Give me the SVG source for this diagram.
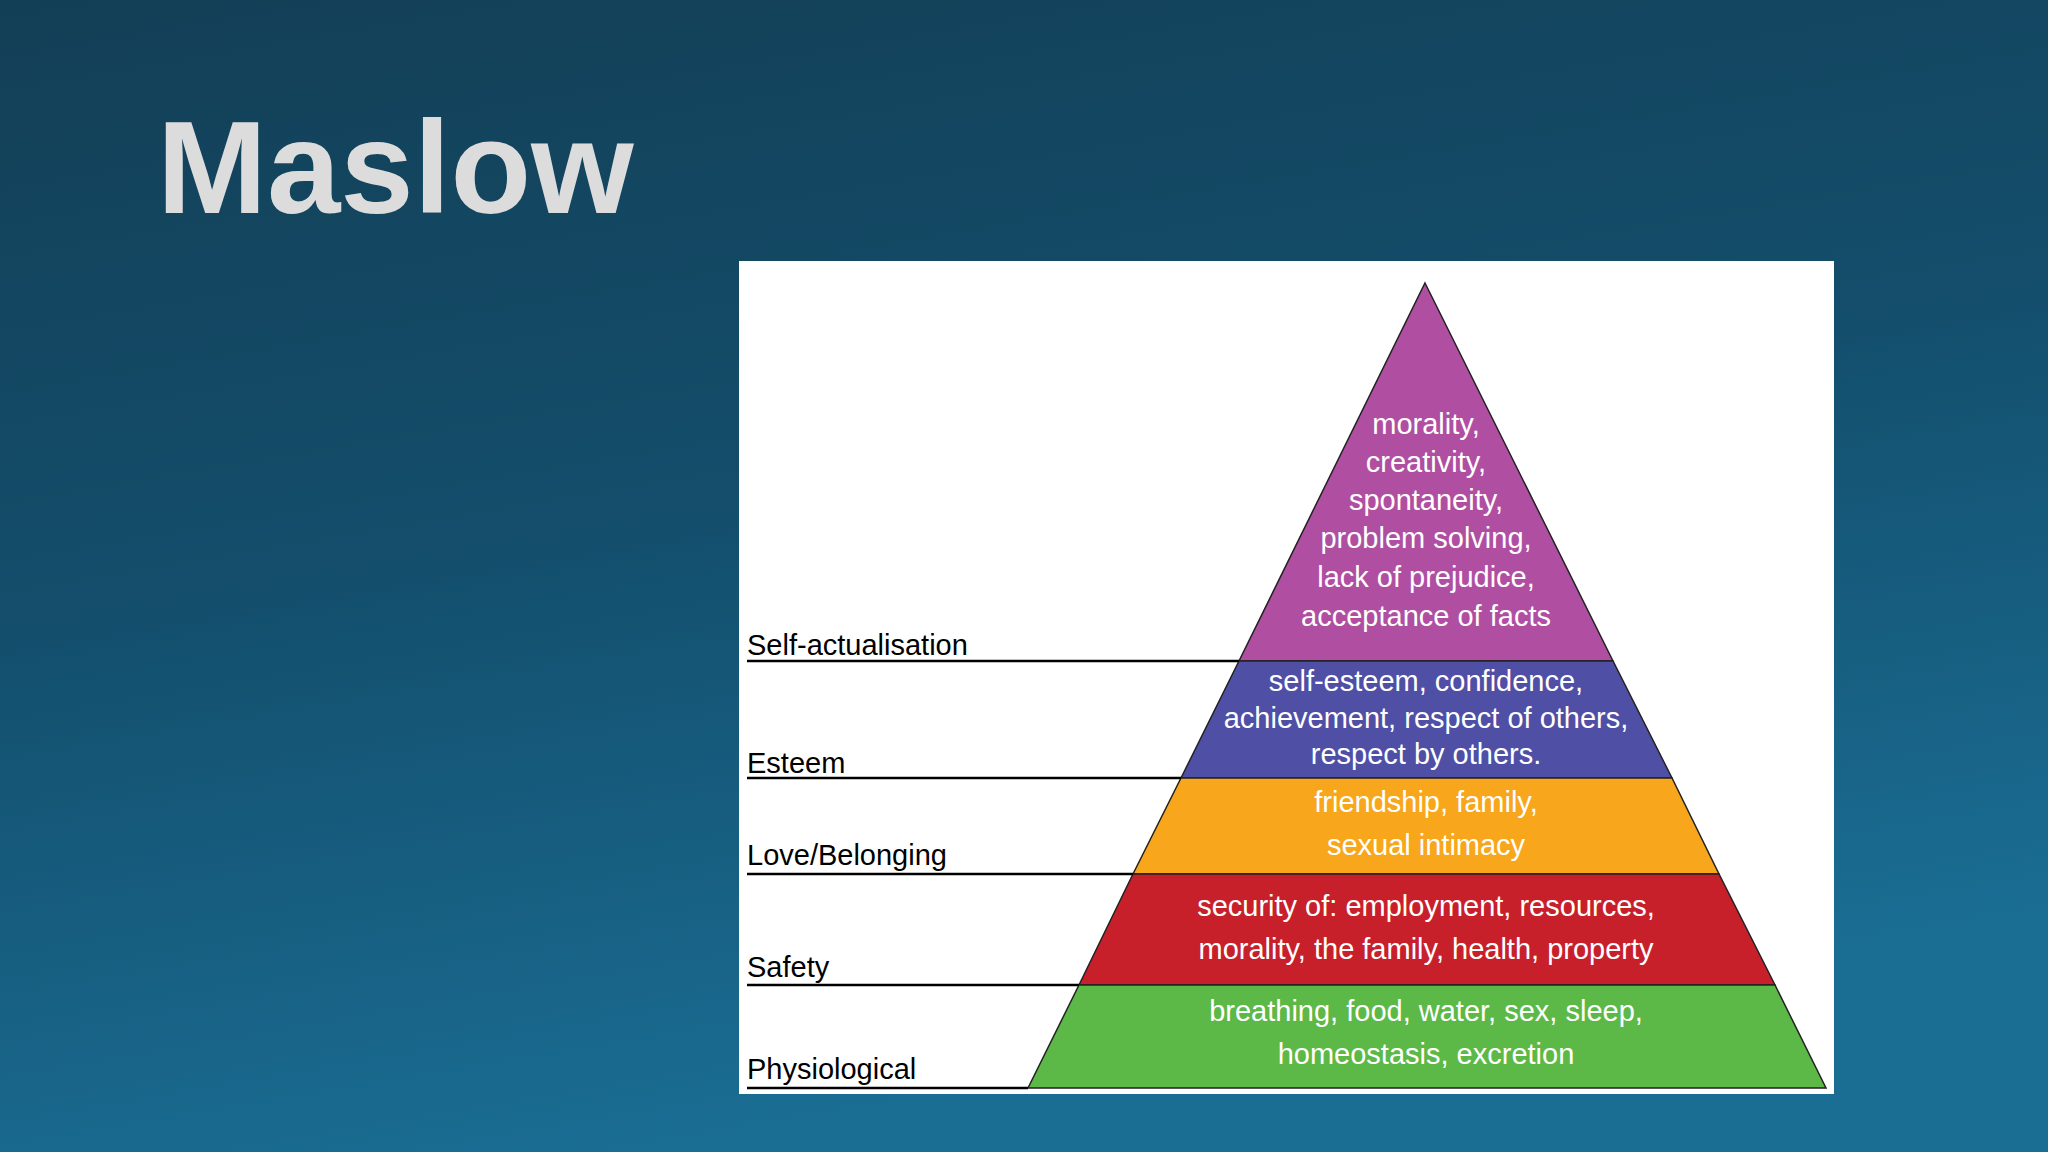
<svg xmlns="http://www.w3.org/2000/svg" width="2048" height="1152" viewBox="0 0 2048 1152">
<defs>
<linearGradient id="bg" x1="0" y1="0" x2="0.3" y2="1">
<stop offset="0" stop-color="#133f56"/>
<stop offset="0.5" stop-color="#134e6c"/>
<stop offset="1" stop-color="#1a6d93"/>
</linearGradient>
<style>
.t{font-family:"Liberation Sans",Arial,sans-serif;font-size:29px;fill:#fff;text-anchor:middle}
.l{font-family:"Liberation Sans",Arial,sans-serif;font-size:29px;fill:#000}
.ln{stroke:#000;stroke-width:2.5;fill:none}
.lv{stroke:#222;stroke-width:1.5}
</style>
</defs>
<rect width="2048" height="1152" fill="url(#bg)"/>
<text x="157" y="213" font-family="Liberation Sans,Arial,sans-serif" font-weight="bold" font-size="132" fill="#dcdcdc">Maslow</text>
<rect x="739" y="261" width="1095" height="833" fill="#fff"/>
<g id="self-actualisation">
<polygon class="lv" points="1425,283 1613,661 1239,661" fill="#b04fa2"/>
<text class="t" x="1426" y="434">morality,</text>
<text class="t" x="1426" y="472">creativity,</text>
<text class="t" x="1426" y="510">spontaneity,</text>
<text class="t" x="1426" y="548">problem solving,</text>
<text class="t" x="1426" y="587">lack of prejudice,</text>
<text class="t" x="1426" y="626">acceptance of facts</text>
</g>
<g id="esteem">
<polygon class="lv" points="1239,661 1613,661 1672,778 1181,778" fill="#4f4fa6"/>
<text class="t" x="1426" y="691">self-esteem, confidence,</text>
<text class="t" x="1426" y="728">achievement, respect of others,</text>
<text class="t" x="1426" y="764">respect by others.</text>
</g>
<g id="love">
<polygon class="lv" points="1181,778 1672,778 1719,874 1133,874" fill="#f8a61b"/>
<text class="t" x="1426" y="812" font-size="31">friendship, family,</text>
<text class="t" x="1426" y="855" font-size="31">sexual intimacy</text>
</g>
<g id="safety">
<polygon class="lv" points="1133,874 1719,874 1775,985 1079,985" fill="#c8202b"/>
<text class="t" x="1426" y="916" font-size="31">security of: employment, resources,</text>
<text class="t" x="1426" y="959" font-size="31">morality, the family, health, property</text>
</g>
<g id="physiological">
<polygon class="lv" points="1079,985 1775,985 1826,1088 1028,1088" fill="#5cb947"/>
<text class="t" x="1426" y="1021" font-size="31">breathing, food, water, sex, sleep,</text>
<text class="t" x="1426" y="1064" font-size="31">homeostasis, excretion</text>
</g>
<g id="connectors">
<line class="ln" x1="747" y1="661" x2="1239" y2="661"/>
<line class="ln" x1="747" y1="778" x2="1181" y2="778"/>
<line class="ln" x1="747" y1="874" x2="1133" y2="874"/>
<line class="ln" x1="747" y1="985" x2="1079" y2="985"/>
<line class="ln" x1="747" y1="1088" x2="1028" y2="1088"/>
</g>
<g id="labels">
<text class="l" x="747" y="655">Self-actualisation</text>
<text class="l" x="747" y="773">Esteem</text>
<text class="l" x="747" y="865">Love/Belonging</text>
<text class="l" x="747" y="977">Safety</text>
<text class="l" x="747" y="1079">Physiological</text>
</g>
</svg>
